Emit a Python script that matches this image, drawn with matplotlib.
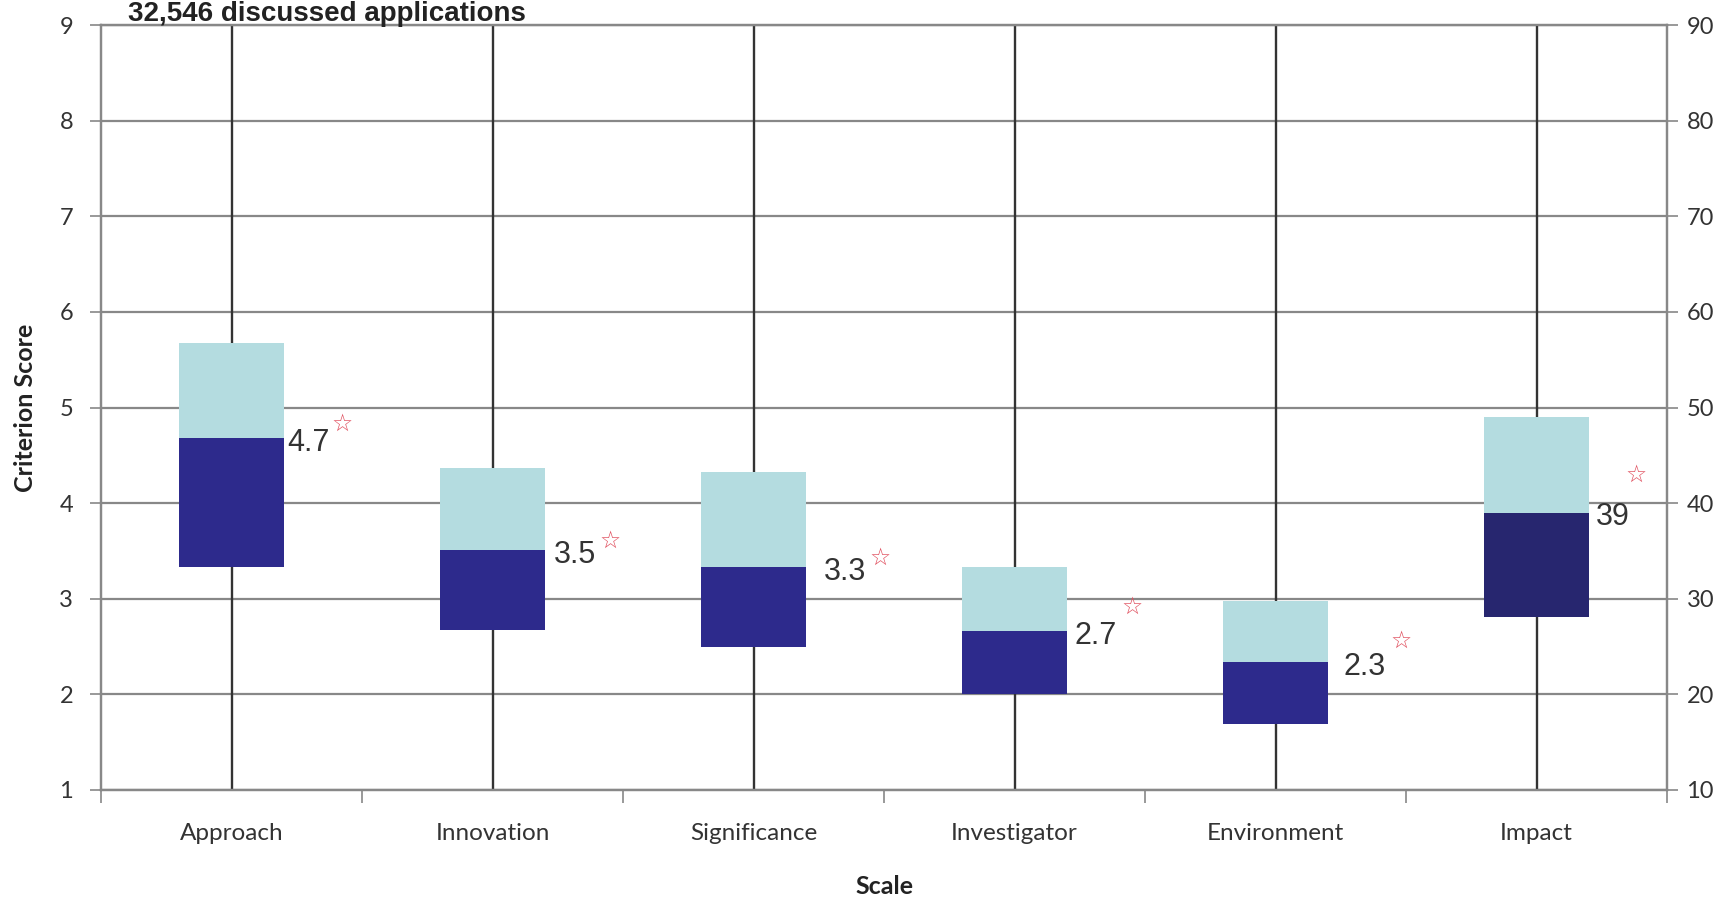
import matplotlib
matplotlib.use("Agg")
import matplotlib.pyplot as plt
import numpy as np

# ---- data ----
categories = ["Approach", "Innovation", "Significance", "Investigator", "Environment", "Impact"]
q1 = [3.33, 2.67, 2.50, 2.00, 1.69]          # criterion scores (left axis)
median = [4.68, 3.51, 3.33, 2.66, 2.34]
q3 = [5.67, 4.37, 4.33, 3.33, 2.98]
impact_q1, impact_median, impact_q3 = 28.1, 39.0, 49.0   # impact score (right axis)
mean_labels = ["4.7", "3.5", "3.3", "2.7", "2.3", "39"]
left_ticks = [1, 2, 3, 4, 5, 6, 7, 8, 9]
right_ticks = [10, 20, 30, 40, 50, 60, 70, 80, 90]
title = "32,546 discussed applications"

# ---- layout / style ----
label_dx = [0.215, 0.236, 0.27, 0.231, 0.26, 0.227]
star_dx = [0.425, 0.45, 0.484, 0.45, 0.48, 0.38]
star_dy = [0.15, 0.10, 0.10, 0.26, 0.22, 0.40]
dark = "#2d2a8c"
dark_imp = "#27266f"
light = "#b4dce0"
grid_c = "#888888"
whisk_c = "#333333"
star_c = "#e0505f"

fig = plt.figure(figsize=(17.21, 8.99), dpi=100)
ax = fig.add_axes([101/1721, (899-790)/899, (1667-101)/1721, (790-25)/899])
ax2 = ax.twinx()

x = np.arange(len(categories))
w = 0.4
ax.set_xlim(-0.5, len(categories) - 0.5)
ax.set_ylim(1, 9)
ax2.set_ylim(10, 90)

ax.set_yticks(left_ticks)
ax2.set_yticks(right_ticks)
for t in left_ticks:
    ax.axhline(t, color=grid_c, lw=1.6, zorder=1)

# whiskers (full range)
ax.vlines(x[:5], 1, 9, color=whisk_c, lw=1.7, zorder=2)
ax2.vlines(x[5], 10, 90, color=whisk_c, lw=1.7, zorder=2)

# boxes
q1a, meda, q3a = np.array(q1), np.array(median), np.array(q3)
ax.bar(x[:5], meda - q1a, bottom=q1a, width=w, color=dark, zorder=3)
ax.bar(x[:5], q3a - meda, bottom=meda, width=w, color=light, zorder=3)
ax2.bar(x[5], impact_median - impact_q1, bottom=impact_q1, width=w, color=dark_imp, zorder=3)
ax2.bar(x[5], impact_q3 - impact_median, bottom=impact_median, width=w, color=light, zorder=3)

# value labels and stars
for i in range(5):
    ax.text(x[i] + label_dx[i], median[i] - 0.05, mean_labels[i], fontsize=22,
            family="Liberation Sans", color="#333333", va="center", ha="left", zorder=5)
    ax.text(x[i] + star_dx[i], median[i] + star_dy[i], "\u2606", fontsize=17,
            family="DejaVu Sans", color=star_c, va="center", ha="center", zorder=5,
            fontweight="bold")
ax2.text(x[5] + label_dx[5], impact_median - 0.5, mean_labels[5], fontsize=22,
         family="Liberation Sans", color="#333333", va="center", ha="left", zorder=5)
ax2.text(x[5] + star_dx[5], impact_median + star_dy[5] * 10, "\u2606", fontsize=17,
         family="DejaVu Sans", color=star_c, va="center", ha="center", zorder=5,
         fontweight="bold")

# x ticks: boundaries as ticks, labels at centres
ax.set_xticks(np.arange(-0.5, len(categories)), labels=[""] * (len(categories) + 1))
ax.set_xticks(x, labels=categories, minor=True)
ax.tick_params(axis="x", which="major", direction="out", length=9, color=grid_c, width=1.2)
ax.tick_params(axis="x", which="minor", length=0, pad=24, labelsize=17.5, labelcolor="#333333")
for lab in ax.get_xticklabels(minor=True):
    lab.set_family("Lato")

ax.tick_params(axis="y", direction="out", length=8, color=grid_c, width=1.2,
               labelsize=17, labelcolor="#333333", pad=12)
ax2.tick_params(axis="y", direction="out", length=8, color=grid_c, width=1.2,
                labelsize=17, labelcolor="#333333", pad=6)
for lab in ax.get_yticklabels() + ax2.get_yticklabels():
    lab.set_family("Lato")

for a in (ax, ax2):
    for s in a.spines.values():
        s.set_color(grid_c)
        s.set_linewidth(1.6)

ax.set_ylabel("Criterion Score", fontsize=18, fontweight="bold", family="Lato",
              color="#222222", labelpad=16)
ax.set_xlabel("Scale", fontsize=18, fontweight="bold", family="Lato",
              color="#222222")
ax.xaxis.set_label_coords(0.5, -0.111)

fig.text(128/1721, 1 - 21/899, title, fontsize=20, fontweight="bold",
         family="Liberation Sans", color="#222222", ha="left", va="baseline")

fig.savefig("out.png", dpi=100)
